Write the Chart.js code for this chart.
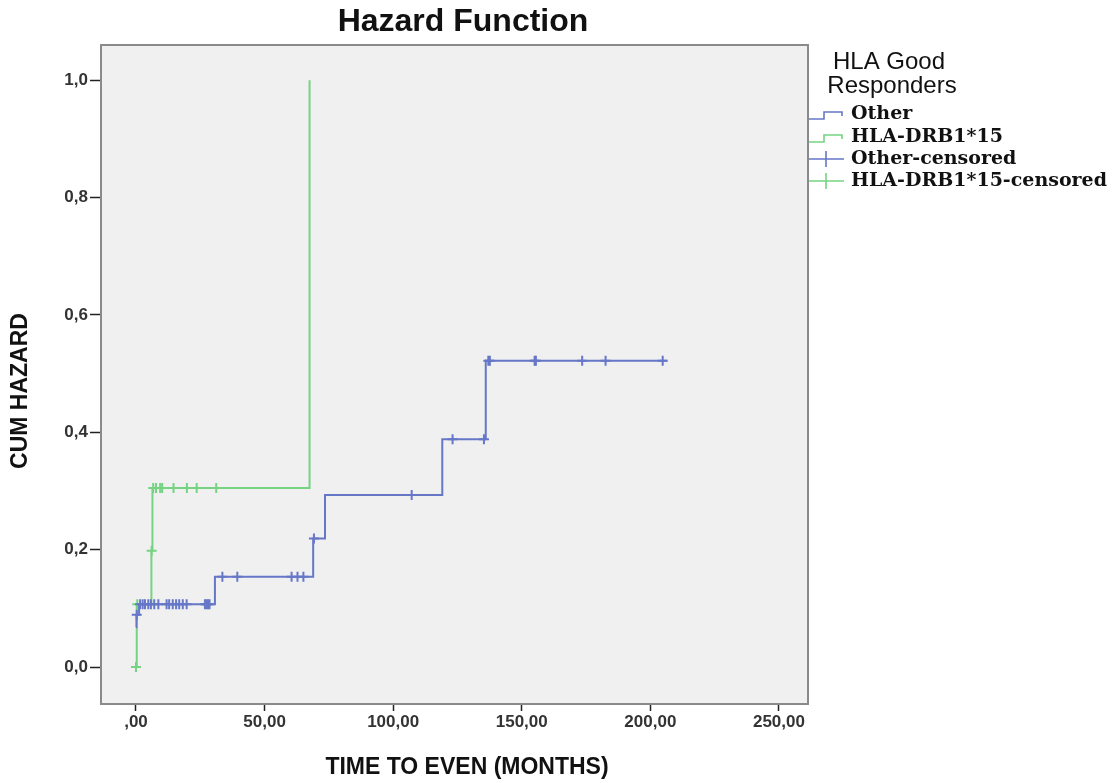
<!DOCTYPE html>
<html>
<head>
<meta charset="utf-8">
<script src="https://cdn.jsdelivr.net/npm/chart.js@4.4.0/dist/chart.umd.min.js"></script>
<style>
  html, body { margin: 0; padding: 0; background: #fff; }
  #wrap { width: 1120px; height: 783px; position: relative; }
</style>
</head>
<body>
<div id="wrap"><canvas id="chart"></canvas></div>
<script>
// Cumulative hazard steps (time in months, cum hazard)
const otherTimes  = [0, 0.2, 1.2, 30.7, 68.9, 73.5, 119.1, 136.0, 206.5];
const otherHazard = [0.068, 0.089, 0.107, 0.154, 0.219, 0.293, 0.388, 0.522, 0.522];
const otherCensored = [0.3, 1.6, 2.6, 3.5, 4.8, 5.8, 7.1, 8.7, 11.9, 12.9, 14.3, 15.6, 16.8, 18.2, 19.7,
  26.8, 27.4, 28.0, 28.6, 33.6, 39.4, 60.5, 62.8, 65.1, 69.2, 107.2, 123.1, 135.3,
  137.0, 137.6, 155.0, 155.5, 173.5, 182.6, 204.8];

const drbTimes  = [0, 0.3, 6.0, 6.4, 67.5];
const drbHazard = [0, 0.107, 0.198, 0.305, 1.0];
const drbCensored = [0, 0.5, 6.1, 6.7, 7.8, 9.4, 10.2, 14.6, 19.8, 23.6, 31.2];

const xTicks = [0, 50, 100, 150, 200, 250];
const xTickLabels = [',00', '50,00', '100,00', '150,00', '200,00', '250,00'];
const yTicks = [0, 0.2, 0.4, 0.6, 0.8, 1.0];
const yTickLabels = ['0,0', '0,2', '0,4', '0,6', '0,8', '1,0'];

const legendTitle = ['HLA Good', 'Responders'];
const legendItems = ['Other', 'HLA-DRB1*15', 'Other-censored', 'HLA-DRB1*15-censored'];

const BLUE = '#6677c8';
const GREEN = '#76d383';

function stepLevel(times, values, t){
  let v = values[0];
  for(let i = 0; i < times.length; i++){ if(times[i] <= t) v = values[i]; }
  return v;
}
function pts(times, values){ return times.map((t, i) => ({x: t, y: values[i]})); }
function censPts(cens, times, values){ return cens.map(t => ({x: t, y: stepLevel(times, values, t)})); }

const decor = {
  id: 'decor',
  beforeDraw(chart){
    const {ctx, chartArea: a} = chart;
    ctx.save();
    ctx.fillStyle = '#f0f0f0';
    ctx.fillRect(a.left, a.top, a.right - a.left, a.bottom - a.top);
    ctx.restore();
  },
  afterDraw(chart){
    const {ctx, chartArea: a} = chart;
    ctx.save();
    // frame
    ctx.strokeStyle = '#8a8a8a';
    ctx.lineWidth = 2;
    ctx.strokeRect(a.left, a.top, a.right - a.left, a.bottom - a.top);

    ctx.fillStyle = '#111';
    ctx.textAlign = 'center';
    ctx.textBaseline = 'middle';
    ctx.font = 'bold 32px "Liberation Sans", Arial, sans-serif';
    ctx.fillText('Hazard Function', 463, 22);

    ctx.font = 'bold 23px "Liberation Sans", Arial, sans-serif';
    ctx.fillText('TIME TO EVEN (MONTHS)', 467, 768);

    ctx.save();
    ctx.translate(21, 391);
    ctx.rotate(-Math.PI / 2);
    ctx.fillText('CUM HAZARD', 0, 0);
    ctx.restore();

    // legend
    ctx.font = '24px "Liberation Sans", Arial, sans-serif';
    ctx.fillText(legendTitle[0], 889, 62);
    ctx.fillText(legendTitle[1], 892, 86);

    const rowY = [114, 137, 159, 181];
    const cols = [BLUE, GREEN, BLUE, GREEN];
    ctx.lineWidth = 1.6;
    rowY.forEach((y, i) => {
      ctx.strokeStyle = cols[i];
      ctx.beginPath();
      if(i < 2){
        ctx.moveTo(809, y + 5); ctx.lineTo(824, y + 5); ctx.lineTo(824, y - 2);
        ctx.lineTo(842, y - 2); ctx.lineTo(842, y + 2);
      } else {
        ctx.moveTo(809, y); ctx.lineTo(844, y);
        ctx.moveTo(826, y - 8); ctx.lineTo(826, y + 8);
      }
      ctx.stroke();
    });
    ctx.fillStyle = '#111';
    ctx.textAlign = 'left';
    ctx.font = 'bold 19px "DejaVu Serif", serif';
    rowY.forEach((y, i) => ctx.fillText(legendItems[i], 851, y));
    ctx.restore();
  }
};

new Chart(document.getElementById('chart'), {
  type: 'line',
  data: {
    datasets: [
      {label: 'Other-censored', type: 'scatter', data: censPts(otherCensored, otherTimes, otherHazard),
        pointStyle: 'cross', radius: 5, borderColor: BLUE, borderWidth: 2, backgroundColor: BLUE},
      {label: 'Other', data: pts(otherTimes, otherHazard), stepped: 'before',
        borderColor: BLUE, borderWidth: 2, pointRadius: 0, fill: false},
      {label: 'HLA-DRB1*15-censored', type: 'scatter', data: censPts(drbCensored, drbTimes, drbHazard),
        pointStyle: 'cross', radius: 5, borderColor: GREEN, borderWidth: 2, backgroundColor: GREEN},
      {label: 'HLA-DRB1*15', data: pts(drbTimes, drbHazard), stepped: 'before',
        borderColor: GREEN, borderWidth: 2, pointRadius: 0, fill: false}
    ]
  },
  options: {
    responsive: true,
    maintainAspectRatio: false,
    animation: false,
    layout: {padding: {top: 45, right: 312, bottom: 0, left: 0}},
    plugins: {legend: {display: false}, tooltip: {enabled: false}},
    scales: {
      x: {
        type: 'linear', min: -13.6, max: 261.3,
        afterBuildTicks: s => { s.ticks = xTicks.map(v => ({value: v})); },
        afterFit: s => { s.height = 79; },
        border: {display: false},
        grid: {drawOnChartArea: false, tickLength: 7, tickColor: '#222', tickWidth: 1.5},
        ticks: {color: '#333', padding: 1, font: {family: '"Liberation Sans", Arial', size: 17, weight: 'bold'},
          callback: (v) => xTickLabels[xTicks.indexOf(v)]}
      },
      y: {
        type: 'linear', min: -0.063, max: 1.06,
        afterBuildTicks: s => { s.ticks = yTicks.map(v => ({value: v})); },
        afterFit: s => { s.width = 101; },
        border: {display: false},
        grid: {drawOnChartArea: false, tickLength: 11, tickColor: '#222', tickWidth: 1.5},
        ticks: {color: '#333', padding: 2, font: {family: '"Liberation Sans", Arial', size: 17, weight: 'bold'},
          callback: (v) => yTickLabels[yTicks.indexOf(v)]}
      }
    }
  },
  plugins: [decor]
});
</script>
</body>
</html>
